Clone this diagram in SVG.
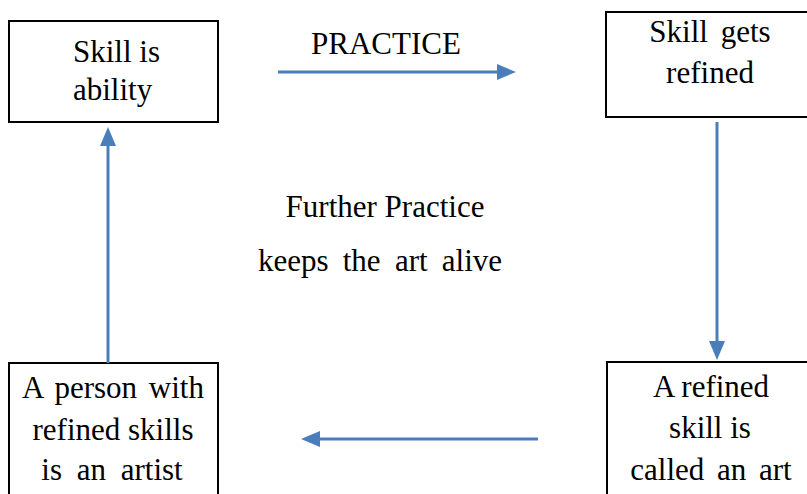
<svg xmlns="http://www.w3.org/2000/svg" width="807" height="494" viewBox="0 0 807 494">
<style>
.box{fill:#ffffff;stroke:#000000;stroke-width:2}
.t{font-family:'Liberation Serif','Times New Roman',Times,serif;font-size:31px;fill:#000000}
.c{text-anchor:middle}
.conn{stroke:#4a7ebb;stroke-width:3;fill:none}
</style>
<defs>
<marker id="ah" markerUnits="userSpaceOnUse" markerWidth="20" markerHeight="16" refX="0" refY="8" orient="auto" viewBox="0 0 20 16">
<path d="M0,0 L19,8 L0,16 z" fill="#4a7ebb"/>
</marker>
</defs>
<rect width="807" height="494" fill="#ffffff"/>
<g id="node-skill-ability">
<rect class="box" x="9" y="21" width="209" height="101"/>
<text class="t" x="73" y="62">Skill is</text>
<text class="t" x="73" y="100">ability</text>
</g>
<g id="node-skill-refined">
<rect class="box" x="606" y="12" width="215" height="105"/>
<text class="t c" x="710" y="42" word-spacing="5">Skill gets</text>
<text class="t c" x="710" y="83">refined</text>
</g>
<g id="node-refined-art">
<rect class="box" x="607" y="362" width="215" height="145"/>
<text class="t c" x="711" y="397">A refined</text>
<text class="t c" x="710" y="438">skill is</text>
<text class="t c" x="711" y="480" word-spacing="5">called an art</text>
</g>
<g id="node-artist">
<rect class="box" x="9" y="363" width="209" height="145"/>
<text class="t c" x="113" y="398" word-spacing="4">A person with</text>
<text class="t c" x="113" y="440">refined skills</text>
<text class="t c" x="112" y="480" word-spacing="7">is an artist</text>
</g>
<g id="labels">
<text class="t c" x="386" y="54">PRACTICE</text>
<text class="t c" x="385" y="217">Further Practice</text>
<text class="t c" x="380" y="271" word-spacing="6.5">keeps the art alive</text>
</g>
<g id="connectors">
<line class="conn" x1="278" y1="72" x2="497" y2="72" marker-end="url(#ah)"/>
<line class="conn" x1="717" y1="122" x2="717" y2="341" marker-end="url(#ah)"/>
<line class="conn" x1="538" y1="439" x2="320" y2="439" marker-end="url(#ah)"/>
<line class="conn" x1="108" y1="363" x2="108" y2="146" marker-end="url(#ah)"/>
</g>
</svg>
